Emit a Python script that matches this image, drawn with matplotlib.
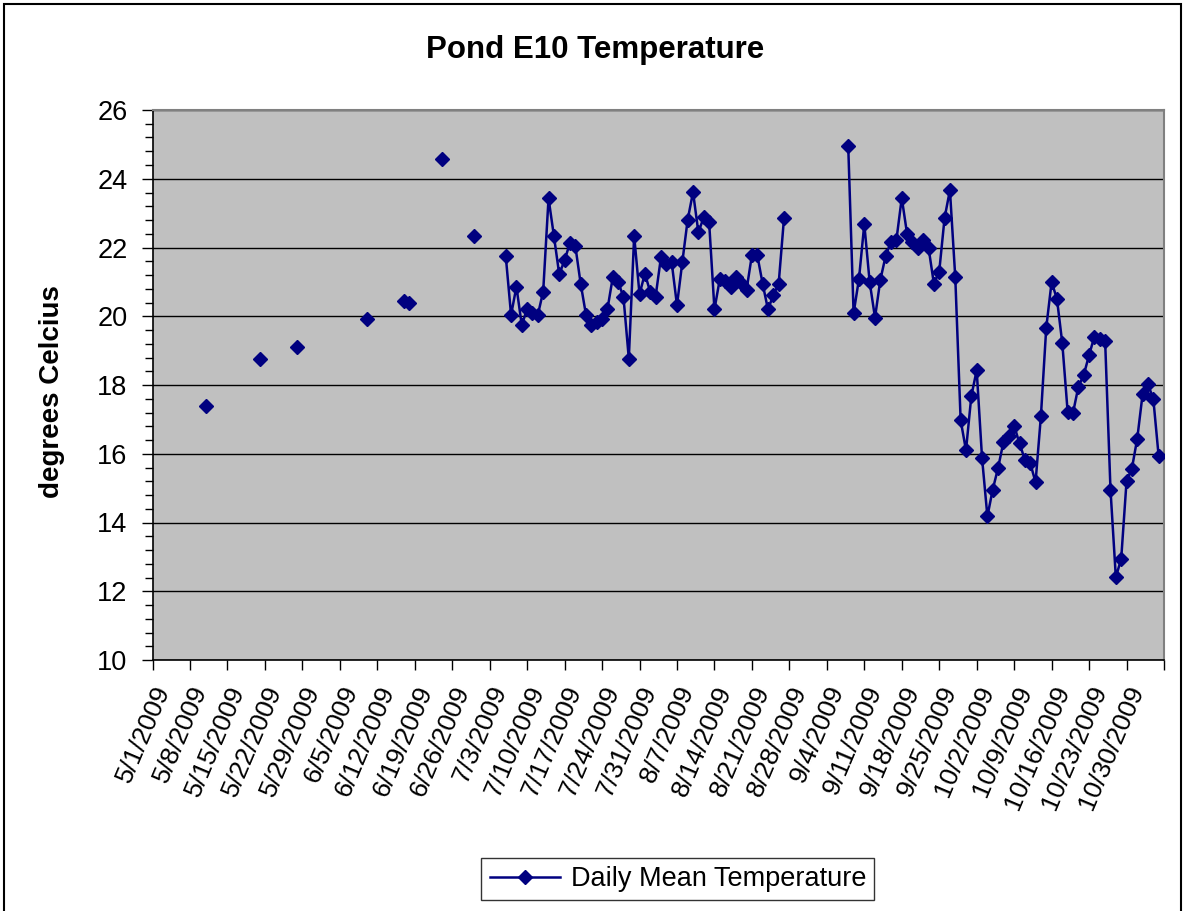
import matplotlib
matplotlib.use('Agg')
import matplotlib.pyplot as plt
import numpy as np
import pandas as pd
from matplotlib.patches import Rectangle
from matplotlib.lines import Line2D
from matplotlib.ticker import MultipleLocator

plt.rcParams['font.family'] = ['Liberation Sans', 'DejaVu Sans']

# ---- data ----
early_dates = ['2009-05-11', '2009-05-21', '2009-05-28', '2009-06-10',
               '2009-06-17', '2009-06-18', '2009-06-24', '2009-06-30']
early_temps = [17.38, 18.77, 19.11, 19.91, 20.44, 20.38, 24.58, 22.34]

summer_start = '2009-07-06'   # daily readings from this date
summer_temps = [21.76, 20.04, 20.86, 19.74, 20.22, 20.09, 20.04, 20.72, 23.43, 22.34,
                21.22, 21.63, 22.13, 22.05, 20.95, 20.04, 19.74, 19.82, 19.91, 20.20,
                21.13, 21.00, 20.56, 18.77, 22.34, 20.64, 21.24, 20.71, 20.57, 21.71,
                21.52, 21.58, 20.32, 21.58, 22.81, 23.61, 22.44, 22.88, 22.75, 20.20,
                21.08, 21.03, 20.84, 21.13, 20.98, 20.77, 21.78, 21.78, 20.95, 20.20,
                20.61, 20.95, 22.86]

fall_start = '2009-09-08'     # daily readings from this date
fall_temps = [24.94, 20.09, 21.08, 22.68, 21.00, 19.96, 21.06, 21.76, 22.17, 22.22,
              23.44, 22.39, 22.17, 22.00, 22.22, 22.00, 20.95, 21.30, 22.86, 23.67,
              21.13, 16.98, 16.10, 17.68, 18.43, 15.88, 14.18, 14.96, 15.59, 16.34,
              16.51, 16.82, 16.30, 15.83, 15.73, 15.17, 17.10, 19.67, 21.00, 20.50,
              19.21, 17.21, 17.19, 17.95, 18.29, 18.87, 19.41, 19.33, 19.28, 14.96,
              12.41, 12.94, 15.20, 15.57, 16.44, 17.73, 18.02, 17.60, 15.93]

axis_start = '2009-05-01'
axis_end = '2009-11-06'
y_ticks = [10, 12, 14, 16, 18, 20, 22, 24, 26]

# ---- assemble daily series (missing days -> gaps) ----
idx = pd.date_range(axis_start, axis_end, freq='D')
series = pd.Series(np.nan, index=idx)
series.loc[pd.to_datetime(early_dates)] = early_temps
series.loc[pd.date_range(summer_start, periods=len(summer_temps), freq='D')] = summer_temps
series.loc[pd.date_range(fall_start, periods=len(fall_temps), freq='D')] = fall_temps

W, H = 1183, 911
fig = plt.figure(figsize=(W / 100, H / 100), dpi=100)

# outer chart border
fig.patches.append(Rectangle((4 / W, -0.01), (1181 - 4) / W, 1 - 4 / H + 0.01,
                             transform=fig.transFigure, fill=False,
                             edgecolor='black', linewidth=1.5))

left, right, top, bottom = 152.5, 1164, 110, 660
ax = fig.add_axes([left / W, (H - bottom) / H, (right - left) / W, (bottom - top) / H])
ax.set_facecolor('#C0C0C0')

ax.plot(series.index, series.values, color='#000080', linewidth=1.8,
        marker='D', markersize=7, markerfacecolor='#000080',
        markeredgecolor='#000080', zorder=3)

ax.set_xlim(pd.Timestamp(axis_start), pd.Timestamp(axis_end))
ax.set_ylim(10, 26)

tick_dates = pd.date_range(axis_start, axis_end, freq='7D')
ax.set_xticks(tick_dates)
labels = [f"{d.month}/{d.day}/{d.year}" for d in tick_dates]
labels[-1] = ''
ax.set_xticklabels(labels, rotation=67, ha='right', va='top',
                   rotation_mode='anchor', fontsize=19)

ax.set_yticks(y_ticks)
ax.yaxis.set_minor_locator(MultipleLocator(0.4))
ax.tick_params(axis='y', which='major', direction='out', length=8, width=1,
               labelsize=19.5, pad=10)
ax.tick_params(axis='y', which='minor', direction='out', length=6, width=1)
ax.tick_params(axis='x', which='major', direction='out', length=7, width=1, pad=9)

ax.yaxis.grid(True, which='major', color='black', linewidth=1)
ax.set_axisbelow(True)

for side in ['top', 'right']:
    ax.spines[side].set_color('#808080')
    ax.spines[side].set_linewidth(1.5)
for side in ['left', 'bottom']:
    ax.spines[side].set_color('black')
    ax.spines[side].set_linewidth(1.2)

fig.text(595 / W, 1 - 50 / H, 'Pond E10 Temperature', ha='center', va='center',
         fontsize=22.5, fontweight='bold')
fig.text(52 / W, 1 - 392 / H, 'degrees Celcius', ha='center', va='center',
         rotation=90, fontsize=20, fontweight='bold')

handle = Line2D([], [], color='#000080', linewidth=1.8, marker='D',
                markersize=7, markerfacecolor='#000080')
leg = fig.legend([handle], ['Daily Mean Temperature'], loc='center',
                 bbox_to_anchor=(678 / W, 1 - 879 / H), fontsize=19.5,
                 frameon=True, fancybox=False, edgecolor='black',
                 handlelength=2.6, handletextpad=0.4, borderpad=0.3)
leg.get_frame().set_linewidth(1)

fig.savefig('out.png', dpi=100)
